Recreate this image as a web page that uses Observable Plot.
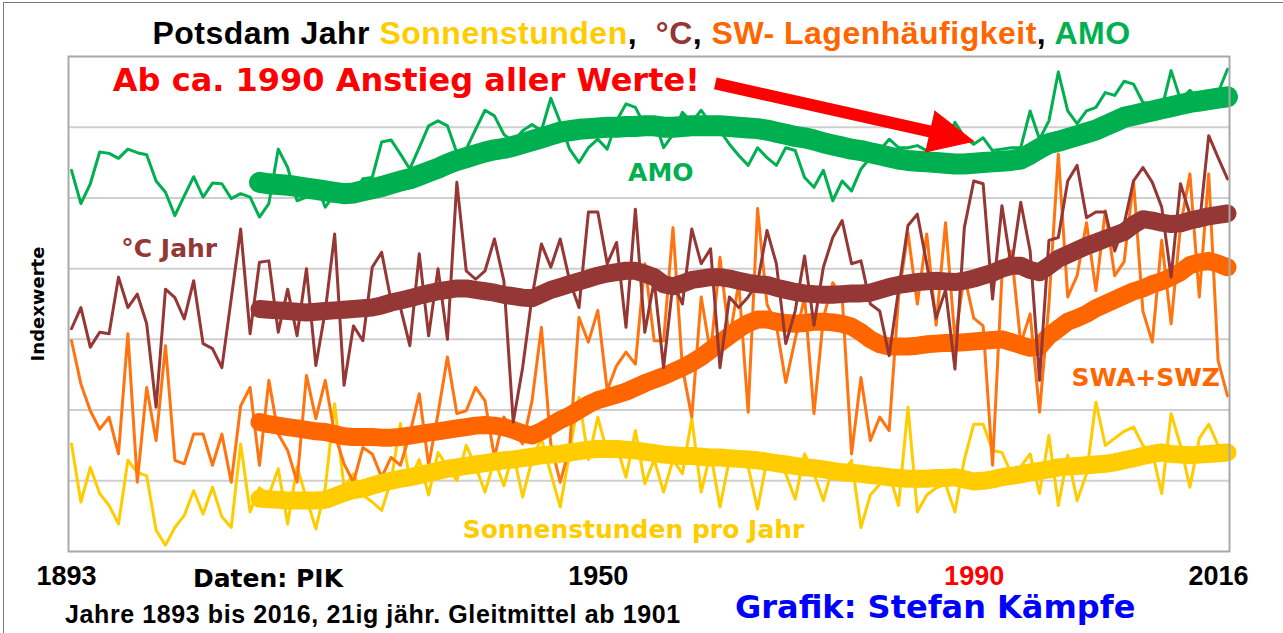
<!DOCTYPE html>
<html><head><meta charset="utf-8">
<script src="https://cdn.jsdelivr.net/npm/d3@7"></script>
<script src="https://cdn.jsdelivr.net/npm/@observablehq/plot@0.6"></script>
<style>
body{margin:0;background:#fff;}
#wrap{position:relative;width:1283px;height:633px;overflow:hidden;background:#fff;}
#border{position:absolute;left:3px;top:2px;width:1300px;height:660px;border-left:1px solid #7a7a7a;border-top:1px solid #7a7a7a;}
#title{position:absolute;left:0;top:17px;width:1283px;text-align:center;font:bold 32px "Liberation Sans";line-height:1;white-space:pre;letter-spacing:0.5px;}
#chart{position:absolute;left:0;top:48px;}
.ft{position:absolute;white-space:pre;line-height:1;}
</style></head><body>
<div id="wrap">
<div id="border"></div>
<div id="title"><span style="color:#000">Potsdam Jahr </span><span style="color:#FFCC00">Sonnenstunden</span><span style="color:#000">,  </span><span style="color:#953735">°C</span><span style="color:#000">, </span><span style="color:#FF6600">SW- Lagenhäufigkeit</span><span style="color:#000">, </span><span style="color:#00B050">AMO</span></div>
<div id="chart"></div>
<div class="ft" style="left:193px;top:564px;font:bold 25px 'DejaVu Sans';color:#000">Daten: PIK</div>
<div class="ft" style="left:65px;top:600px;font:bold 25px 'Liberation Sans';color:#000;letter-spacing:0.6px">Jahre 1893 bis 2016, 21ig jähr. Gleitmittel ab 1901</div>
<div class="ft" style="left:735px;top:595px;font:bold 32px 'DejaVu Sans';color:#0000FF;line-height:0.8">Grafik: Stefan Kämpfe</div>
</div>
<script>
// ---- data ----
const firstYear = 1893;
const smoothStart = 1913;
const lastYear = 2016;

const amoThin = [
 5.39,4.92,5.20,5.65,5.63,5.56,5.69,5.64,5.61,5.24,
 5.08,4.75,5.03,5.30,5.01,5.21,5.20,4.99,5.06,5.01,
 4.73,4.92,5.69,5.43,4.96,5.01,5.20,4.87,5.05,4.99,
 5.05,5.27,5.29,5.79,5.82,5.62,5.41,5.71,6.02,6.09,
 6.02,5.64,5.69,5.97,6.24,6.16,5.90,5.79,5.95,6.04,
 5.95,6.41,6.07,5.69,5.50,5.71,5.83,5.69,6.09,6.33,
 6.28,6.02,6.12,5.71,5.90,6.21,6.07,6.24,6.05,5.95,
 5.76,5.60,5.46,5.71,5.57,5.46,5.71,5.67,5.29,5.15,
 5.39,4.96,5.24,5.10,5.41,5.57,5.67,5.83,5.71,5.71,
 5.74,5.67,5.71,5.74,6.07,5.86,5.76,5.85,5.67,5.69,
 5.71,5.71,6.23,5.83,6.09,6.78,6.23,6.05,6.23,6.28,
 6.49,6.45,6.65,6.61,6.35,6.32,6.26,6.80,6.39,6.52,
 6.40,6.47,6.49,6.82];

const tempThin = [
 3.15,3.45,2.89,3.10,3.08,3.88,3.45,3.64,3.22,2.04,
 3.71,3.59,3.29,3.83,2.94,2.87,2.60,3.58,4.56,3.08,
 4.09,4.11,3.10,3.71,3.05,4.00,2.63,3.40,4.49,2.35,
 3.19,2.98,4.02,4.23,3.55,3.45,2.91,4.21,3.05,4.00,
 3.00,5.22,3.97,3.85,3.97,4.42,3.83,1.83,2.60,3.60,
 4.35,4.02,4.42,3.83,3.45,4.80,4.80,4.07,4.37,3.17,
 4.84,3.10,3.83,2.60,3.80,3.50,4.56,4.07,4.28,2.60,
 3.60,3.45,3.60,3.80,4.54,4.07,2.94,3.40,4.18,3.20,
 4.02,4.44,4.68,4.07,4.11,3.50,3.40,2.77,3.70,4.61,
 4.77,4.07,3.30,3.70,2.58,4.58,5.24,5.20,3.57,4.89,
 4.02,4.94,4.25,2.42,4.40,4.44,5.24,5.46,4.72,4.80,
 4.80,4.25,4.63,5.24,5.43,5.22,4.87,3.88,5.20,4.77,
 4.60,5.88,5.57,5.27];

const swThin = [
 2.98,2.37,1.99,1.73,1.90,1.38,3.08,0.98,2.32,1.57,
 2.91,1.29,1.24,1.66,1.66,1.22,1.66,0.98,2.06,2.32,
 1.22,2.42,1.66,1.43,0.98,2.49,1.88,2.42,1.66,1.24,
 0.98,1.47,1.38,1.05,1.33,1.22,1.66,2.23,1.22,1.95,
 2.75,1.95,1.99,2.32,2.13,1.33,1.90,1.71,1.52,2.13,
 3.17,1.52,0.98,1.47,3.31,2.96,3.41,2.28,2.63,2.82,
 2.65,4.07,2.98,2.98,4.58,2.60,1.90,3.60,2.80,4.16,
 3.00,3.80,1.97,4.85,3.50,3.20,2.39,3.00,3.60,1.95,
 3.30,3.80,3.60,1.38,2.46,1.57,1.90,1.71,3.60,4.51,
 3.50,4.49,3.20,4.65,3.00,3.90,3.30,3.19,1.22,3.90,
 4.25,2.94,3.36,1.97,3.50,5.62,3.60,3.90,4.65,3.69,
 4.82,3.90,4.10,5.24,3.40,2.96,4.40,3.22,4.60,5.34,
 3.60,5.34,2.70,2.20];

const sunThin = [
 1.52,0.70,1.19,0.82,0.65,0.39,1.29,1.12,1.07,0.30,
 0.09,0.34,0.51,0.86,0.53,0.91,0.49,0.34,1.52,0.56,
 0.90,0.80,1.17,0.39,1.20,0.75,0.32,0.90,2.09,0.90,
 1.10,0.80,0.70,0.58,1.00,1.81,1.00,1.30,0.80,1.40,
 1.20,1.00,1.50,1.20,0.84,1.30,0.93,1.40,0.77,1.30,
 1.60,1.10,0.63,1.40,2.18,1.30,1.90,1.40,1.50,1.05,
 1.71,0.96,1.30,0.84,1.30,1.10,1.88,0.84,1.40,0.63,
 1.30,1.40,1.20,0.60,1.30,1.30,1.10,0.74,1.38,1.10,
 0.72,1.20,1.10,1.29,0.34,0.80,0.95,1.10,0.65,2.04,
 0.56,0.80,0.90,0.95,0.56,1.30,1.80,1.80,1.43,1.40,
 1.10,1.20,1.38,0.82,1.64,0.65,1.36,0.72,1.10,2.11,
 1.50,1.60,1.70,1.76,1.50,1.40,0.82,1.95,1.50,0.91,
 1.60,1.80,1.50,1.40];

const amoSmooth = [
 5.22,5.20,5.19,5.18,5.16,5.14,5.12,5.10,5.08,5.06,
 5.07,5.10,5.13,5.16,5.20,5.24,5.27,5.32,5.37,5.42,
 5.48,5.53,5.57,5.61,5.65,5.68,5.70,5.73,5.77,5.81,
 5.85,5.89,5.93,5.95,5.97,5.98,5.99,6.00,6.00,6.01,
 6.01,6.02,6.02,6.00,6.00,6.01,6.02,6.02,6.02,6.02,
 6.01,6.00,5.99,5.98,5.96,5.93,5.90,5.87,5.85,5.82,
 5.78,5.75,5.72,5.69,5.67,5.64,5.61,5.58,5.55,5.53,
 5.52,5.51,5.50,5.49,5.48,5.48,5.49,5.50,5.51,5.52,
 5.53,5.55,5.62,5.70,5.77,5.80,5.84,5.88,5.92,5.96,
 6.02,6.08,6.14,6.17,6.20,6.23,6.26,6.29,6.32,6.35,
 6.37,6.39,6.41,6.43];

const tempSmooth = [
 3.43,3.42,3.41,3.40,3.39,3.38,3.39,3.40,3.41,3.42,
 3.43,3.44,3.45,3.48,3.52,3.55,3.58,3.62,3.65,3.68,
 3.70,3.72,3.72,3.70,3.68,3.66,3.63,3.61,3.59,3.58,
 3.64,3.70,3.74,3.78,3.82,3.86,3.90,3.93,3.95,3.97,
 3.97,3.93,3.88,3.78,3.75,3.79,3.84,3.86,3.88,3.88,
 3.86,3.83,3.80,3.78,3.77,3.73,3.70,3.67,3.65,3.64,
 3.63,3.63,3.64,3.65,3.65,3.66,3.70,3.74,3.77,3.79,
 3.81,3.82,3.83,3.82,3.81,3.83,3.86,3.90,3.94,4.00,
 4.04,4.04,3.98,3.95,4.04,4.14,4.20,4.26,4.32,4.37,
 4.42,4.47,4.52,4.62,4.70,4.68,4.65,4.63,4.64,4.68,
 4.71,4.74,4.76,4.78];

const swSmooth = [
 1.83,1.80,1.78,1.76,1.74,1.72,1.70,1.69,1.66,1.63,
 1.62,1.62,1.62,1.61,1.61,1.62,1.64,1.66,1.68,1.70,
 1.72,1.74,1.76,1.78,1.79,1.78,1.76,1.72,1.67,1.64,
 1.70,1.78,1.86,1.92,2.00,2.08,2.14,2.18,2.22,2.26,
 2.32,2.38,2.43,2.48,2.54,2.60,2.67,2.75,2.85,2.95,
 3.05,3.15,3.23,3.28,3.28,3.25,3.23,3.22,3.23,3.25,
 3.25,3.24,3.22,3.18,3.10,3.00,2.93,2.90,2.90,2.90,
 2.91,2.93,2.94,2.95,2.95,2.96,2.97,2.98,2.99,3.00,
 2.96,2.92,2.88,2.90,3.05,3.15,3.25,3.30,3.36,3.44,
 3.50,3.56,3.62,3.68,3.72,3.78,3.82,3.88,3.95,4.05,
 4.09,4.11,4.07,4.02];

const sunSmooth = [
 0.75,0.74,0.73,0.72,0.72,0.72,0.72,0.73,0.78,0.83,
 0.87,0.89,0.93,0.97,1.00,1.03,1.05,1.08,1.11,1.14,
 1.17,1.19,1.21,1.23,1.25,1.27,1.29,1.30,1.32,1.34,
 1.36,1.37,1.38,1.40,1.42,1.44,1.45,1.45,1.45,1.44,
 1.43,1.41,1.39,1.37,1.36,1.35,1.35,1.34,1.33,1.33,
 1.32,1.31,1.30,1.29,1.27,1.25,1.23,1.21,1.19,1.18,
 1.16,1.14,1.12,1.11,1.10,1.08,1.07,1.05,1.04,1.03,
 1.03,1.03,1.04,1.04,1.05,1.02,0.99,1.00,1.02,1.05,
 1.07,1.09,1.12,1.14,1.16,1.19,1.20,1.21,1.22,1.23,
 1.24,1.26,1.29,1.32,1.35,1.38,1.40,1.38,1.37,1.36,
 1.37,1.38,1.39,1.40];

const tickYears = [1893, 1950, 1990, 2016];
const gridValues = [1, 2, 3, 4, 5, 6];

const labelText  = ["Ab ca. 1990 Anstieg aller Werte!", "AMO", "°C Jahr", "SWA+SWZ", "Sonnenstunden pro Jahr"];
const labelYear  = [1897.4, 1955.7, 1903.4, 2007.3, 1952.8];
const labelValue = [6.66, 5.35, 4.28, 2.45, 0.30];

const arrowFrom = {year: 1961.5, value: 6.62};
const arrowTo   = {year: 1989.0, value: 5.80};

// ---- colors ----
const C = {sun: "#FFCC00", temp: "#953735", swThin: "#FF7410", sw: "#FF6600", amo: "#00B050", red: "#FF0000"};

const toRows = (start, arr) => arr.map((v, i) => ({year: start + i, v}));

const labels = labelText.map((t, i) => ({t, year: labelYear[i], v: labelValue[i]}));
const ann = [labels[0]];
const inner = [
  {...labels[1], c: C.amo},
  {...labels[2], c: C.temp},
  {...labels[3], c: C.sw},
  {...labels[4], c: C.sun}
];

const thin = {strokeWidth: 3, strokeLinejoin: "round", strokeLinecap: "round"};
const thick = {strokeWidth: 18, strokeLinejoin: "round", strokeLinecap: "round"};
const axisCommon = {tickSize: 0, tickPadding: 14, fontSize: 27, fontWeight: "bold", fontFamily: "Liberation Sans", label: null, tickFormat: d => String(d)};

const chart = Plot.plot({
  width: 1283,
  height: 585,
  marginTop: 8,
  marginBottom: 82,
  marginLeft: 68,
  marginRight: 54,
  style: {background: "transparent", overflow: "visible"},
  x: {domain: [firstYear, lastYear], insetLeft: 3, insetRight: 2, label: null},
  y: {domain: [0, 7], axis: null, label: null},
  marks: [
    Plot.gridY(gridValues, {stroke: "#cfcfcf", strokeOpacity: 1, strokeWidth: 2}),
    Plot.line(toRows(firstYear, sunThin), {x: "year", y: "v", stroke: C.sun, ...thin}),
    Plot.line(toRows(firstYear, swThin), {x: "year", y: "v", stroke: C.swThin, ...thin}),
    Plot.line(toRows(smoothStart, sunSmooth), {x: "year", y: "v", stroke: C.sun, ...thick}),
    Plot.line(toRows(smoothStart, swSmooth), {x: "year", y: "v", stroke: C.sw, ...thick}),
    Plot.line(toRows(firstYear, tempThin), {x: "year", y: "v", stroke: C.temp, ...thin}),
    Plot.line(toRows(smoothStart, tempSmooth), {x: "year", y: "v", stroke: C.temp, ...thick}),
    Plot.line(toRows(firstYear, amoThin), {x: "year", y: "v", stroke: C.amo, ...thin}),
    Plot.line(toRows(smoothStart, amoSmooth), {x: "year", y: "v", stroke: C.amo, ...thick, strokeWidth: 21}),
    Plot.frame({stroke: "#a9a9a9", strokeWidth: 2}),
    Plot.text(inner, {x: "year", y: "v", text: "t", fill: d => d.c, fontSize: 25, fontWeight: "bold", fontFamily: "DejaVu Sans"}),
    Plot.text(ann, {x: "year", y: "v", text: "t", fill: C.red, fontSize: 32, fontWeight: "bold", fontFamily: "DejaVu Sans", textAnchor: "start"}),
    Plot.arrow([{x1: arrowFrom.year, y1: arrowFrom.value, x2: arrowTo.year, y2: arrowTo.value}], {
      x1: "x1", y1: "y1", x2: "x2", y2: "y2", stroke: C.red, strokeWidth: 12, headLength: 0, insetEnd: 36, strokeLinecap: "butt"}),
    Plot.vector([arrowTo], {x: "year", y: "value", rotate: 102.7, length: 45, r: 21, shape: "spike", anchor: "end", fill: C.red, stroke: C.red, strokeWidth: 1}),
    Plot.text(["Indexwerte"], {frameAnchor: "left", textAnchor: "middle", rotate: -90, dx: -30, fontSize: 18, fontWeight: "bold", fontFamily: "DejaVu Sans", fill: "#000"}),
    Plot.axisX([tickYears[0]], {...axisCommon, dx: -5, fill: "#000"}),
    Plot.axisX([tickYears[1], tickYears[3]], {...axisCommon, dx: -9, fill: "#000"}),
    Plot.axisX([tickYears[2]], {...axisCommon, dx: -9, fill: C.red})
  ]
});
document.getElementById("chart").appendChild(chart);
</script>
</body></html>
